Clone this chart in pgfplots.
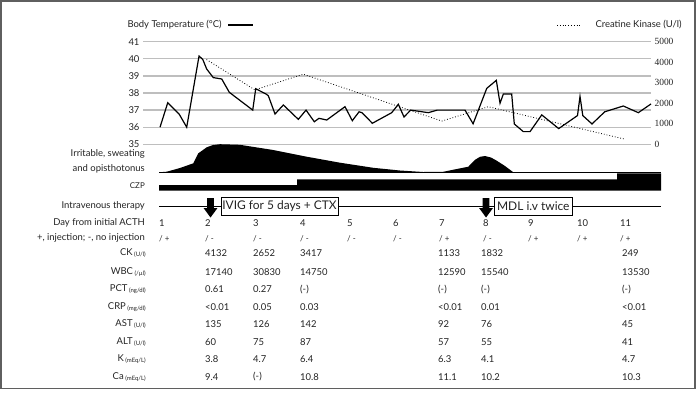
\documentclass[border=0pt]{standalone}
\usepackage{pgfplots}
\pgfplotsset{compat=1.18}
\usepackage{fontspec}
\setmainfont{Lato}
\newfontfamily\serifnum{Liberation Serif}
\definecolor{txt}{RGB}{35,35,35}
\definecolor{gridc}{RGB}{190,190,190}
\definecolor{framec}{RGB}{95,95,95}
\newcommand\lbl{\fontsize{9.5}{11}\selectfont}
\newcommand\sml{\fontsize{8}{9}\selectfont}
\newcommand\un[1]{\,\raisebox{-1bp}{\fontsize{6}{7}\selectfont #1}}
\newcommand\trow[7]{%
  \foreach \xx/\vv in {205/#2,253/#3,300/#4,438/#5,481/#6,622/#7}
    \node[anchor=west,font=\lbl,text=txt,inner sep=0pt] at (\xx,-#1) {\vv};}
\begin{document}
\begin{tikzpicture}
\begin{scope}[x=1bp,y=1bp]
\path[use as bounding box] (0,0) rectangle (700,-399);
\draw[framec, line width=1.5bp] (0.75,-0.75) rectangle (695,-388.3);
\end{scope}

\begin{axis}[at={(143bp,-41.7bp)}, anchor=north west, scale only axis,
  width=508bp, height=102.6bp, xmin=0.634, xmax=11.559, ymin=35, ymax=41,
  ytick={35,...,41}, xtick=\empty, axis line style={draw=none},
  ymajorgrids, grid style={gridc, line width=1.3bp}, major tick length=0pt,
  yticklabel style={font=\lbl, text=txt}, /pgf/number format/assume math mode=true,
  clip=false]
\addplot[black, line width=1.2bp] coordinates {
(1.000,36.0) (1.166,37.43) (1.415,36.75) (1.574,36.0) (1.839,40.16) (1.918,39.97)
(2.004,39.4) (2.146,38.9) (2.327,38.82) (2.490,38.04) (2.994,37.0) (3.058,38.25)
(3.280,37.94) (3.329,37.84) (3.473,36.77) (3.652,37.3) (3.974,36.46) (4.140,37.0)
(4.318,36.32) (4.419,36.52) (4.585,36.42) (4.978,37.2) (5.135,36.38) (5.280,36.9)
(5.344,36.85) (5.566,36.23) (5.983,36.85) (6.125,37.34) (6.247,36.6) (6.391,37.0)
(6.770,36.85) (6.963,37.0) (7.559,37.0) (7.733,36.2) (8.026,38.27) (8.232,38.74)
(8.312,37.4) (8.383,37.94) (8.563,37.94) (8.619,36.19) (8.813,35.74) (8.957,35.74)
(9.209,36.72) (9.574,35.92) (9.978,36.68) (10.032,37.8) (10.092,36.68) (10.290,36.19)
(10.563,36.9) (10.963,37.24) (11.286,36.85) (11.559,37.36)};
\end{axis}

\begin{axis}[at={(143bp,-41.7bp)}, anchor=north west, scale only axis,
  width=508bp, height=102.6bp, xmin=0.634, xmax=11.559, ymin=0, ymax=5000,
  axis y line*=right, axis x line=none, axis line style={draw=none},
  ytick={0,1000,...,5000}, major tick length=0pt,
  yticklabel style={font=\serifnum\fontsize{9.5}{11}\selectfont, text=txt},
  /pgf/number format/assume math mode=true, /pgf/number format/1000 sep={},
  clip=false]
\addplot[black, dotted, line width=0.8bp] coordinates {
(2.0,4132) (3.04,2652) (4.08,3417) (7.06,1133) (8.06,1832) (11.0,249)};
\end{axis}

\begin{axis}[at={(143bp,-144bp)}, anchor=north west, scale only axis,
  width=508bp, height=255bp, xmin=0.634, xmax=11.559, ymin=-399, ymax=-144,
  hide axis, clip=false]
\addplot[fill=black, draw=none] coordinates {
(0.978,-172.3) (1.144,-171.7) (1.430,-168) (1.716,-163.3) (1.824,-153.3)
(2.004,-147.3) (2.140,-145) (2.290,-144.2) (2.720,-144.8) (3.435,-150)
(4.155,-156.7) (4.871,-162.7) (5.587,-167.8) (6.161,-170.5) (6.662,-172)
(7.086,-171.8) (7.630,-166.7) (7.774,-159.8) (7.882,-156.8) (7.989,-156)
(8.118,-157.5) (8.241,-160.7) (8.419,-166) (8.598,-172.3)};
\addplot[black, line width=0.9bp] coordinates {(0.978,-172.3) (11.774,-172.3)};
\addplot[fill=black, draw=none] coordinates {
(0.978,-185) (3.946,-185) (3.946,-179.3) (10.828,-179.3) (10.828,-173.3)
(11.774,-173.3) (11.774,-190.5) (0.978,-190.5)};
\addplot[black, line width=1bp] coordinates {(0.978,-206) (11.774,-206)};
\addplot[fill=black, draw=none] coordinates {
(2.014,-198) (2.158,-198) (2.158,-208) (2.236,-208) (2.086,-217.5) (1.936,-208) (2.014,-208)};
\addplot[fill=black, draw=none] coordinates {
(7.939,-198) (8.083,-198) (8.083,-208) (8.161,-208) (8.011,-217.5) (7.861,-208) (7.939,-208)};
\node[draw=black, fill=white, line width=0.6bp, font=\fontsize{12}{14}\selectfont, text=txt,
  minimum width=117bp, minimum height=18bp, inner sep=1bp] at (axis cs:3.570,-206) {IVIG for 5 days + CTX};
\node[draw=black, fill=white, line width=0.6bp, font=\fontsize{12}{14}\selectfont, text=txt,
  minimum width=78bp, minimum height=18bp, inner sep=1bp] at (axis cs:9.028,-206) {MDL i.v twice};
\end{axis}

\begin{scope}[x=1bp,y=1bp]
\node[anchor=west, font=\lbl, text=txt] at (124,-25) {Body Temperature (°C)};
\draw[black, line width=1.2bp] (228,-25) -- (253,-25);
\draw[black, dotted, line width=0.8bp] (557,-25) -- (582,-25);
\node[anchor=west, font=\lbl, text=txt] at (592,-25) {Creatine Kinase (U/l)};

\begin{scope}[every node/.style={anchor=east, font=\lbl, text=txt, inner sep=0pt}]
\node at (145,-153.5) {Irritable, sweating};
\node at (145,-168.5) {and opisthotonus};
\node[font=\sml] at (145,-186) {CZP};
\node at (145,-206) {Intravenous therapy};
\node at (145,-223.3) {Day from initial ACTH};
\node at (145,-238.3) {+, injection; -, no injection};
\node at (146,-253.3) {CK\un{(U/l)}};
\node at (146,-271.7) {WBC\un{(/µl)}};
\node at (146,-289.3) {PCT\un{(ng/dl)}};
\node at (146,-306.7) {CRP\un{(mg/dl)}};
\node at (146,-324) {AST\un{(U/l)}};
\node at (146,-341.7) {ALT\un{(U/l)}};
\node at (146,-359.3) {K\un{(mEq/L)}};
\node at (146,-376.7) {Ca\un{(mEq/L)}};
\end{scope}

\foreach \xx/\dd in {159/1,205/2,253/3,300/4,347/5,393/6,439/7,483/8,528/9,577/10,620/11}
  \node[anchor=west,font=\lbl,text=txt,inner sep=0pt] at (\xx,-223.3) {\dd};
\foreach \xx/\ss in {159/+,205/-,253/-,300/-,347/-,393/-,439/+,483/-,528/+,577/+,620/+}
  \node[anchor=west,font=\sml,text=txt,inner sep=0pt] at (\xx,-238.3) {/ \ss};

\trow{253.3}{4132}{2652}{3417}{1133}{1832}{249}
\trow{271.7}{17140}{30830}{14750}{12590}{15540}{13530}
\trow{289.3}{0.61}{0.27}{(-)}{(-)}{(-)}{(-)}
\trow{306.7}{<0.01}{0.05}{0.03}{<0.01}{0.01}{<0.01}
\trow{324}{135}{126}{142}{92}{76}{45}
\trow{341.7}{60}{75}{87}{57}{55}{41}
\trow{359.3}{3.8}{4.7}{6.4}{6.3}{4.1}{4.7}
\trow{376.7}{9.4}{(-)}{10.8}{11.1}{10.2}{10.3}
\end{scope}
\end{tikzpicture}
\end{document}
